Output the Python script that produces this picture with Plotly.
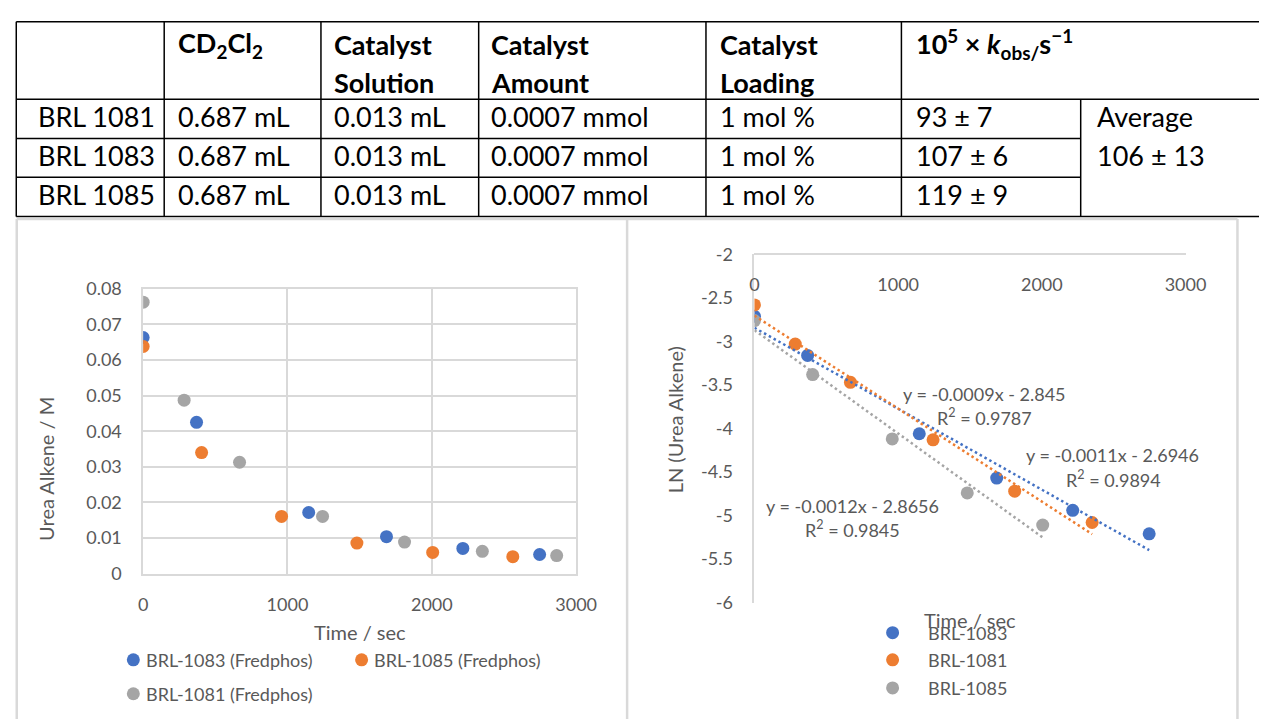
import numpy as np
import plotly.graph_objects as go

W, H = 1280, 727

# ---------------- table content ----------------
HEADER_LINES = [
    ["<b>CD<sub>2</sub>Cl<sub>2</sub></b>"],
    ["<b>Catalyst</b>", "<b>Solution</b>"],
    ["<b>Catalyst</b>", "<b>Amount</b>"],
    ["<b>Catalyst</b>", "<b>Loading</b>"],
    ["<b>10<sup>5</sup> × <i>k</i><sub>obs/</sub>s<sup>−1</sup></b>"],
]
RUN_LABELS = ["BRL 1081", "BRL 1083", "BRL 1085"]
CD2CL2_VOLUME = ["0.687 mL", "0.687 mL", "0.687 mL"]
CATALYST_SOLUTION = ["0.013 mL", "0.013 mL", "0.013 mL"]
CATALYST_AMOUNT = ["0.0007 mmol", "0.0007 mmol", "0.0007 mmol"]
CATALYST_LOADING = ["1 mol %", "1 mol %", "1 mol %"]
K_OBS = ["93 ± 7", "107 ± 6", "119 ± 9"]
K_AVERAGE = ["Average", "106 ± 13"]

# ---------------- left panel: [urea alkene] vs time ----------------
T_1083 = [0, 370, 1147, 1686, 2215, 2747]
C_1083 = [0.0663, 0.0425, 0.0172, 0.0104, 0.0071, 0.0054]
T_1085 = [0, 405, 959, 1481, 2006, 2561]
C_1085 = [0.0638, 0.0340, 0.0161, 0.0086, 0.0060, 0.0048]
T_1081 = [0, 284, 668, 1243, 1811, 2350, 2865]
C_1081 = [0.0762, 0.0487, 0.0313, 0.0161, 0.0089, 0.0063, 0.0051]

LEFT_NAMES = ["BRL-1083 (Fredphos)", "BRL-1085 (Fredphos)", "BRL-1081 (Fredphos)"]

# ---------------- right panel: ln[urea alkene] vs time ----------------
LN_T_1083 = [0, 370, 1147, 1686, 2215, 2747]
LN_1083 = [-2.71, -3.16, -4.06, -4.57, -4.94, -5.21]
LN_T_1081 = [0, 284, 668, 1243, 1811, 2350]
LN_1081 = [-2.58, -3.03, -3.47, -4.13, -4.72, -5.08]
LN_T_1085 = [0, 405, 959, 1481, 2006]
LN_1085 = [-2.76, -3.38, -4.12, -4.74, -5.11]

RIGHT_NAMES = ["BRL-1083", "BRL-1081", "BRL-1085"]
TREND_LABELS = [
    ["y = -0.0009x - 2.845", "R<sup>2</sup> = 0.9787"],
    ["y = -0.0011x - 2.6946", "R<sup>2</sup> = 0.9894"],
    ["y = -0.0012x - 2.8656", "R<sup>2</sup> = 0.9845"],
]

# ---------------- ticks ----------------
TIME_TICKS = [0, 1000, 2000, 3000]
TIME_TICK_TEXT = ["0", "1000", "2000", "3000"]
CONC_TICKS = [0, 0.01, 0.02, 0.03, 0.04, 0.05, 0.06, 0.07, 0.08]
CONC_TICK_TEXT = ["0", "0.01", "0.02", "0.03", "0.04", "0.05", "0.06", "0.07", "0.08"]
LN_TICKS = [-2, -2.5, -3, -3.5, -4, -4.5, -5, -5.5, -6]
LN_TICK_TEXT = ["-2", "-2.5", "-3", "-3.5", "-4", "-4.5", "-5", "-5.5", "-6"]

BLUE, ORANGE, GRAY = "#4472C4", "#ED7D31", "#A5A5A5"
TEXT = "#595959"
GRID = "#D9D9D9"
FONT = "Lato"


def px(x):
    return x / W


def py(y):
    return 1 - y / H


fig = go.Figure()

# left panel markers
for t, c, name, col in [(T_1083, C_1083, LEFT_NAMES[0], BLUE),
                        (T_1085, C_1085, LEFT_NAMES[1], ORANGE),
                        (T_1081, C_1081, LEFT_NAMES[2], GRAY)]:
    fig.add_trace(go.Scatter(x=t, y=c, mode="markers", name=name, showlegend=False,
                             marker=dict(color=col, size=13, line=dict(width=0)),
                             xaxis="x", yaxis="y"))

# right panel markers and linear trendlines
right_sets = [(LN_T_1083, LN_1083, RIGHT_NAMES[0], BLUE),
              (LN_T_1081, LN_1081, RIGHT_NAMES[1], ORANGE),
              (LN_T_1085, LN_1085, RIGHT_NAMES[2], GRAY)]
for t, v, name, col in right_sets:
    fig.add_trace(go.Scatter(x=t, y=v, mode="markers", name=name, showlegend=False,
                             marker=dict(color=col, size=13, line=dict(width=0)),
                             xaxis="x2", yaxis="y2"))
for t, v, name, col in right_sets:
    slope, icpt = np.polyfit(t, v, 1)
    tx = np.array([min(t), max(t)], dtype=float)
    fig.add_trace(go.Scatter(x=tx, y=icpt + slope * tx, mode="lines", showlegend=False,
                             name=name + " trend", hoverinfo="skip",
                             line=dict(color=col, width=2.5, dash="2.5px,3px"),
                             xaxis="x2", yaxis="y2"))

tickfont = dict(family=FONT, size=18, color=TEXT)

fig.update_layout(
    width=W, height=H, margin=dict(l=0, r=0, t=0, b=0),
    paper_bgcolor="white", plot_bgcolor="white", showlegend=False,
    xaxis=dict(domain=[px(141), px(583)], range=[0, 3000], anchor="y",
               tickvals=TIME_TICKS, ticktext=TIME_TICK_TEXT, tickfont=tickfont,
               showgrid=True, gridcolor=GRID, gridwidth=1.5, zeroline=False,
               showline=True, linecolor=GRID, linewidth=1.5, mirror=True,
               ticks="", ticklabelstandoff=14),
    yaxis=dict(domain=[py(579.3), py(285.3)], range=[0, 0.08], anchor="x",
               tickvals=CONC_TICKS, ticktext=CONC_TICK_TEXT, tickfont=tickfont,
               showgrid=True, gridcolor=GRID, gridwidth=1.5, zeroline=False,
               showline=True, linecolor=GRID, linewidth=1.5, mirror=True,
               ticks="", ticklabelstandoff=16),
    xaxis2=dict(domain=[px(765), px(1205)], range=[0, 3000], anchor="free",
                position=py(250), side="bottom",
                tickvals=TIME_TICKS, ticktext=TIME_TICK_TEXT, tickfont=tickfont,
                showgrid=False, zeroline=False, showline=True, linecolor=GRID,
                linewidth=2, ticks="", ticklabelstandoff=14),
    yaxis2=dict(domain=[py(609), py(250)], range=[-6, -2], anchor="x2",
                tickvals=LN_TICKS, ticktext=LN_TICK_TEXT, tickfont=tickfont,
                showgrid=False, zeroline=False, showline=True, linecolor=GRID,
                linewidth=2, ticks="", ticklabelstandoff=16),
)

shapes = []
annotations = []


def hline(x0, x1, y, color="black", w=1.5):
    shapes.append(dict(type="line", xref="paper", yref="paper", x0=px(x0), x1=px(x1),
                       y0=py(y), y1=py(y), line=dict(color=color, width=w)))


def vline(x, y0, y1, color="black", w=1.5):
    shapes.append(dict(type="line", xref="paper", yref="paper", x0=px(x), x1=px(x),
                       y0=py(y0), y1=py(y1), line=dict(color=color, width=w)))


def text(x, y, s, size, color="black", xanchor="left", angle=0):
    annotations.append(dict(xref="paper", yref="paper", x=px(x), y=py(y), text=s,
                            showarrow=False, xanchor=xanchor, yanchor="middle",
                            textangle=angle,
                            font=dict(family=FONT, size=size, color=color)))


# ---- table grid ----
TOP, HDR, R1, R2, BOT = 10, 90, 130.5, 170.5, 211
COLS = [11.5, 162.5, 322.5, 483.5, 715.5, 915, 1098]
hline(COLS[0], W, TOP)
hline(COLS[0], W, HDR)
hline(COLS[0], COLS[6], R1)
hline(COLS[0], COLS[6], R2)
hline(COLS[0], W, BOT)
for cx in COLS[:6]:
    vline(cx, TOP, BOT)
vline(COLS[6], HDR, BOT)

# ---- table text ----
TFS = 27
col_text_x = [175, 334, 494, 728, 928]
for cx, lines in zip(col_text_x, HEADER_LINES):
    for k, s in enumerate(lines):
        text(cx, 33 + 39.5 * k, s, TFS)
row_y = [107.5, 148, 188.5]
for i, ry in enumerate(row_y):
    text(32, ry, RUN_LABELS[i], TFS)
    for cx, vals in zip(col_text_x, [CD2CL2_VOLUME, CATALYST_SOLUTION, CATALYST_AMOUNT,
                                     CATALYST_LOADING, K_OBS]):
        text(cx, ry, vals[i], TFS)
text(1113, row_y[0], K_AVERAGE[0], TFS)
text(1113, row_y[1], K_AVERAGE[1], TFS)

# ---- chart frames ----
hline(12, 1258, 213.5, GRID, 2.5)
vline(12, 213.5, H + 2, GRID, 2.5)
vline(635, 213.5, H + 2, GRID, 2.5)
vline(1258, 213.5, H + 2, GRID, 2.5)

# ---- axis titles ----
text(42, 471, "Urea Alkene / M", 20, TEXT, "center", -90)
text(362, 639, "Time / sec", 20, TEXT, "center")
text(684, 421, "LN (Urea Alkene)", 20, TEXT, "center", -90)
text(985, 627, "Time / sec", 20, TEXT, "center")

# ---- trendline equations ----
trend_pos = [((1000, 394), (1000, 418)), ((1130, 457), (1131, 482)), ((865, 509), (865, 533))]
for (p1, p2), (l1, l2) in zip(trend_pos, TREND_LABELS):
    text(p1[0], p1[1], l1, 18, TEXT, "center")
    text(p2[0], p2[1], l2, 18, TEXT, "center")


# ---- legends ----
def legend_dot(x, y, col):
    shapes.append(dict(type="circle", xref="paper", yref="paper",
                       xsizemode="pixel", ysizemode="pixel",
                       xanchor=px(x), yanchor=py(y), x0=-6.5, x1=6.5, y0=-6.5, y1=6.5,
                       fillcolor=col, line=dict(width=0)))


for (mx, my), name, col in zip([(131, 668), (364, 668), (131, 703)], LEFT_NAMES,
                               [BLUE, ORANGE, GRAY]):
    legend_dot(mx, my, col)
    text(mx + 11, my, name, 18, TEXT)

for my, name, col in zip([640, 668, 697], RIGHT_NAMES, [BLUE, ORANGE, GRAY]):
    legend_dot(906, my, col)
    text(940, my, name, 18, TEXT)

fig.update_layout(shapes=shapes, annotations=annotations)
fig.write_html("out.html")
